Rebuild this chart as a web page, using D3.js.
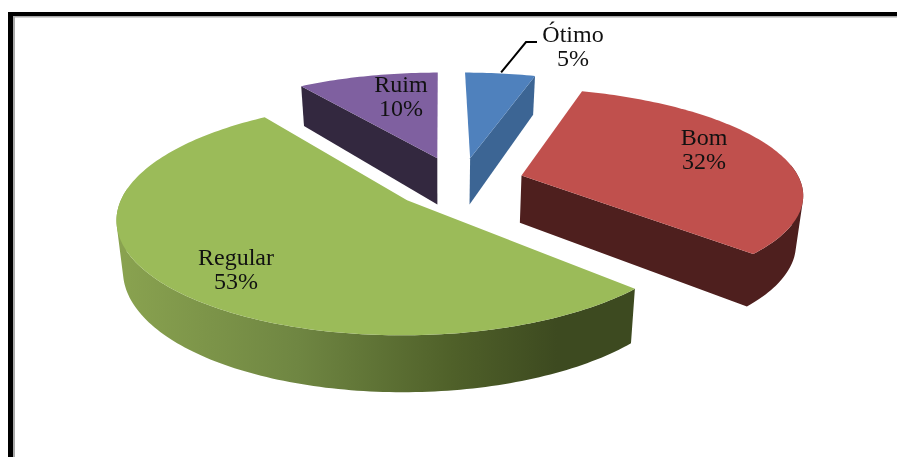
<!DOCTYPE html>
<html><head><meta charset="utf-8">
<style>html,body{margin:0;padding:0;background:#fff}svg{display:block}</style>
<script src="https://cdnjs.cloudflare.com/ajax/libs/d3/7.8.5/d3.min.js"></script>
</head><body><svg id="c" width="897" height="457"></svg>
<script>
// data
const categories = ["Ótimo", "Bom", "Regular", "Ruim"];
const values = [5, 32, 53, 10];
const percentLabels = ["5%", "32%", "53%", "10%"];
// styles
const topColors = ["#4f81bd", "#c0504d", "#9bbb59", "#7f60a0"];
const wallColors = ["#3c6594", "#4e1f1e", null, "#33283f"];
// layout: explosion of each slice in units of the pie radius
const explodeX = [0.112, 0.295, -0.115, -0.01];
const explodeY = [-0.111, 0.05, 0.27, -0.111];
const radiusY = [1, 0.95, 1, 1];
const labelX = [573, 704, 236, 401];
const labelY = [35, 138, 258, 85];
const view = {cx: 440, cy: 170, a: 274, b: 107.5, k: 0.166, depth: 47, converge: 0.02};

const svg = d3.select("#c");
const project = (X, Y, z) => {
  const s = 1 + view.k * Y;
  return [view.cx + view.a * X * s * (1 - view.converge * z), view.cy + view.b * Y * s + z * view.depth * s];
};
const defs = svg.append("defs");
const root = svg.append("g").style("filter", "blur(0.35px)");
const pie = d3.pie().sort(null).value(d => d);
const slices = pie(values).map((d, i) => ({...d, i}));
const line = d3.line();
const rimPoint = (d, ang, z) => project(explodeX[d.i] + Math.sin(ang), explodeY[d.i] - radiusY[d.i] * Math.cos(ang), z);
const apex = (d, z) => project(explodeX[d.i], explodeY[d.i], z);
const rimAngles = d => {
  const n = Math.max(6, Math.ceil((d.endAngle - d.startAngle) / 0.02));
  return d3.range(n + 1).map(j => d.startAngle + (d.endAngle - d.startAngle) * j / n);
};
const rim = (d, z) => rimAngles(d).map(a => rimPoint(d, a, z));
// every quad wound the same way, so overlapping quads add up in one path
const quad = pts => line(d3.polygonArea(pts) < 0 ? pts.slice().reverse() : pts) + "Z";

// gradient of the Regular outer wall
const regular = slices[2];
const xs = d3.extent(rim(regular, 0), p => p[0]);
const grad = defs.append("linearGradient").attr("id", "wallRegular")
  .attr("gradientUnits", "userSpaceOnUse")
  .attr("x1", xs[0]).attr("x2", xs[1]).attr("y1", 0).attr("y2", 0);
[[0, "#8aa350"], [0.35, "#6f8642"], [0.65, "#4f6029"], [0.85, "#3d4a20"], [1, "#3d4a20"]]
  .forEach(([o, c]) => grad.append("stop").attr("offset", o).attr("stop-color", c));
const wallFill = d => wallColors[d.i] || "url(#wallRegular)";

// draw back to front
const order = [3, 0, 1, 2].map(i => slices[i]);
order.forEach(d => {
  const g = root.append("g");
  const fill = wallFill(d);
  // outer wall: swept quads of the rim portion facing the viewer, in a single path
  let wall = d3.pairs(rimAngles(d))
    .filter(([a, b]) => -Math.cos((a + b) / 2) > -0.1)
    .map(([a, b]) => quad([rimPoint(d, a, 0), rimPoint(d, b, 0), rimPoint(d, b, 1), rimPoint(d, a, 1)]))
    .join("");
  // only the cut faces turned toward the viewer are drawn
  [[d.startAngle, -1], [d.endAngle, 1]].forEach(([ang, sign]) => {
    if (sign * Math.sin(ang) <= 1e-9) return;
    wall += quad([apex(d, 0), rimPoint(d, ang, 0), rimPoint(d, ang, 1), apex(d, 1)]);
  });
  if (wall) g.append("path").attr("d", wall).attr("fill", fill).attr("fill-rule", "nonzero");
  g.append("path").attr("d", line([apex(d, 0), ...rim(d, 0)]) + "Z").attr("fill", topColors[d.i]);
});

// leader line for Ótimo
const o = slices[0];
const anchor = rimPoint(o, (o.startAngle + o.endAngle) / 2, 0);
root.append("path")
  .attr("d", line([[anchor[0] + 1, anchor[1] - 1], [526, 42], [537, 42]]))
  .attr("fill", "none").attr("stroke", "#000").attr("stroke-width", 2);

// labels
categories.forEach((c, i) => {
  const t = root.append("text").attr("text-anchor", "middle")
    .attr("font-family", "'Liberation Serif', serif").attr("font-size", 24).attr("fill", "#111");
  t.append("tspan").attr("x", labelX[i]).attr("y", labelY[i] + 7).text(c);
  t.append("tspan").attr("x", labelX[i]).attr("y", labelY[i] + 31).text(percentLabels[i]);
});

// frame
const frame = svg.append("g");
frame.append("rect").attr("x", 13).attr("y", 16).attr("width", 884).attr("height", 1.5).attr("fill", "#aaa");
frame.append("rect").attr("x", 13).attr("y", 16).attr("width", 2).attr("height", 441).attr("fill", "#aaa");
frame.append("rect").attr("x", 8).attr("y", 12).attr("width", 889).attr("height", 4).attr("fill", "#000");
frame.append("rect").attr("x", 8).attr("y", 12).attr("width", 5).attr("height", 445).attr("fill", "#000");
</script></body></html>
